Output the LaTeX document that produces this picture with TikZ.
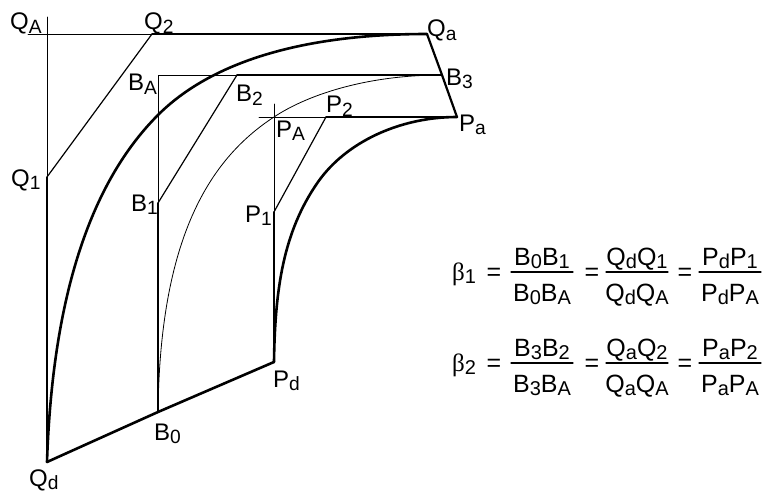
\documentclass[tikz,border=0pt]{standalone}
\usepackage{fontspec}
\setmainfont{Liberation Sans}
\newfontfamily\grk{Liberation Serif}
\usepackage{graphicx}
% lowered, smaller index
\newcommand\sub[1]{\raisebox{-.13em}{\scalebox{.8}{#1}}}
% fraction: name, x, y of bar, numerator, denominator
\newcommand\frc[5]{%
  \node[eq, anchor=base] (#1n) at (#2,#3-7) {#4};
  \node[eq, anchor=base] (#1d) at (#2,#3+29) {#5};
  \draw[bar] (#2-31,#3) -- (#2+31,#3);}
\begin{document}
\begin{tikzpicture}[x=1pt, y=-1pt, line join=round, line cap=round,
	heavy/.style={line width=2.6pt},
	mid/.style={line width=1.5pt},
	fine/.style={line width=.8pt},
	lbl/.style={inner sep=0pt, anchor=base west, font=\fontsize{24}{28}\selectfont},
	eq/.style={inner sep=0pt, font=\fontsize{25}{30}\selectfont},
	bar/.style={line width=1.3pt}]
	\useasboundingbox (0,0) rectangle (766,495);
	% points
	\coordinate (Qd) at (47,462);
	\coordinate (Q1) at (47,177);
	\coordinate (QA) at (47,34);
	\coordinate (Q2) at (152,34);
	\coordinate (Qa) at (427,34);
	\coordinate (B0) at (158,412);
	\coordinate (B1) at (158,203);
	\coordinate (BA) at (158,75);
	\coordinate (B2) at (237,75);
	\coordinate (B3) at (442,75);
	\coordinate (Pd) at (274,362);
	\coordinate (P1) at (274,212);
	\coordinate (PA) at (274,117);
	\coordinate (P2) at (326,117);
	\coordinate (Pa) at (457,117);
	% construction lines
	\draw[fine] (Q1) -- (47,17) (28,34) -- (Q2);
	\draw[fine] (B1) -- (BA) -- (B2);
	\draw[fine] (P1) -- (274,104) (259,117) -- (P2);
	\draw[line width=1.2pt] (Q1) -- (Q2) (B1) -- (B2) (P1) -- (P2);
	\draw[line width=1.2pt] (Qd) -- (Q1);
	\draw[mid] (B0) -- (B1) (Pd) -- (P1);
	\draw[mid] (Q2) -- (Qa) (B2) -- (B3) (P2) -- (Pa);
	% outline
	\draw[heavy] (Qd) -- (B0) -- (Pd);
	\draw[line width=2.2pt] (Qa) -- (B3) -- (Pa);
	\draw[heavy] (Qd) .. controls (53,280) and (98,175) .. (158,115)
		.. controls (210,63) and (300,34) .. (Qa);
	\draw[fine] (B0) .. controls (160,240) and (208,160) .. (PA)
		.. controls (304,97) and (362,75) .. (B3);
	\draw[heavy] (Pd) .. controls (275,290) and (283,232) .. (318,182)
		.. controls (346,142) and (400,117) .. (Pa);
	% labels
	\node[lbl] (tQA) at (10,30) {Q\sub{A}};
	\node[lbl] (tQ2) at (144,30) {Q\sub{2}};
	\node[lbl] (tQa) at (427,37) {Q\sub{a}};
	\node[lbl] (tQ1) at (11,186) {Q\sub{1}};
	\node[lbl] (tQd) at (29,486) {Q\sub{d}};
	\node[lbl] (tBA) at (128,91) {B\sub{A}};
	\node[lbl] (tB2) at (236,102) {B\sub{2}};
	\node[lbl] (tB3) at (446,85) {B\sub{3}};
	\node[lbl] (tB1) at (131,211) {B\sub{1}};
	\node[lbl] (tB0) at (154,440) {B\sub{0}};
	\node[lbl] (tP2) at (326,113) {P\sub{2}};
	\node[lbl] (tPA) at (276,137) {P\sub{A}};
	\node[lbl] (tPa) at (459,131) {P\sub{a}};
	\node[lbl] (tP1) at (245,222) {P\sub{1}};
	\node[lbl] (tPd) at (273,387) {P\sub{d}};
	% ratios
	\node[eq, anchor=base west] (beta1) at (452,280) {{\grk β}\sub{1}};
	\node[eq, anchor=base] (eq1a) at (494,280) {=};
	\frc{f1a}{542}{272}{B\sub{0}B\sub{1}}{B\sub{0}B\sub{A}}
	\node[eq, anchor=base] (eq1b) at (592,280) {=};
	\frc{f1b}{637}{272}{Q\sub{d}Q\sub{1}}{Q\sub{d}Q\sub{A}}
	\node[eq, anchor=base] (eq1c) at (685,280) {=};
	\frc{f1c}{730}{272}{P\sub{d}P\sub{1}}{P\sub{d}P\sub{A}}
	\node[eq, anchor=base west] (beta2) at (452,371) {{\grk β}\sub{2}};
	\node[eq, anchor=base] (eq2a) at (494,371) {=};
	\frc{f2a}{542}{363}{B\sub{3}B\sub{2}}{B\sub{3}B\sub{A}}
	\node[eq, anchor=base] (eq2b) at (592,371) {=};
	\frc{f2b}{637}{363}{Q\sub{a}Q\sub{2}}{Q\sub{a}Q\sub{A}}
	\node[eq, anchor=base] (eq2c) at (685,371) {=};
	\frc{f2c}{730}{363}{P\sub{a}P\sub{2}}{P\sub{a}P\sub{A}}
\end{tikzpicture}
\end{document}
